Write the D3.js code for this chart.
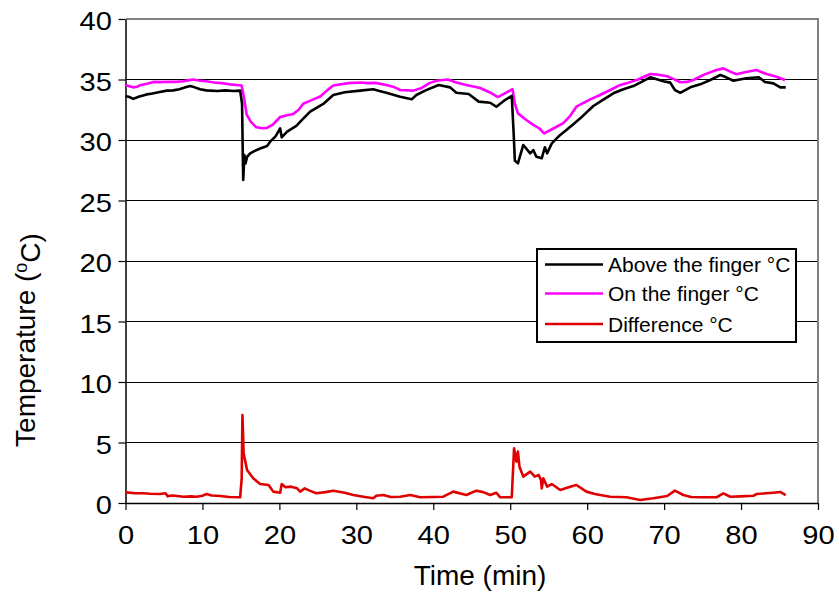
<!DOCTYPE html>
<html>
<head>
<meta charset="utf-8">
<script src="https://cdn.jsdelivr.net/npm/d3@7/dist/d3.min.js"></script>
<style>
  html, body { margin: 0; padding: 0; background: #fff; }
  svg { display: block; font-family: "Liberation Sans", Arial, sans-serif; }
</style>
</head>
<body>
<svg id="chart" width="839" height="595"></svg>
<script>
// Sensor temperature above and on the finger, with their difference (°C vs minutes)
const aboveT = [0,0.5,1,1.8,2.75,3.5,4.3,5.35,6.2,7,7.8,8.4,9,9.7,10.5,11,12,13,14,14.9,15.15,15.25,15.3,15.45,15.6,15.8,16.2,16.8,17.5,18.4,18.8,19.5,20.1,20.3,21,22.2,23,24,25.7,27,28.5,30.5,32.2,33,33.9,35.7,37.2,37.8,39,40.7,42.2,43,44.6,45.9,47.4,48.2,49.2,50.2,50.45,50.6,51,51.7,52.6,53,53.4,54.1,54.5,54.8,55,55.4,56.3,57.3,58.2,59.1,60.8,62,63.4,64.7,66,67.2,68.2,69.9,70.8,71.4,72.1,73.4,74.7,76,77.3,78,79,80.7,82.3,83.1,84.2,85.1,85.8];
const aboveV = [33.64,33.55,33.4,33.6,33.77,33.85,33.95,34.08,34.1,34.2,34.35,34.46,34.35,34.19,34.1,34.08,34.05,34.1,34.05,34.08,33.0,28.5,26.7,28.76,28.07,28.6,28.9,29.1,29.3,29.5,29.86,30.3,30.96,30.22,30.69,31.16,31.7,32.34,32.98,33.72,33.95,34.08,34.19,34.05,33.9,33.58,33.36,33.72,34.1,34.55,34.35,33.9,33.8,33.17,33.08,32.75,33.25,33.64,30.5,28.3,28.07,29.59,28.9,29.17,28.62,28.49,29.4,28.9,29.17,29.72,30.3,30.83,31.3,31.79,32.81,33.3,33.86,34.2,34.46,34.85,35.18,34.85,34.74,34.13,33.9,34.35,34.6,34.96,35.37,35.2,34.9,35.1,35.18,34.8,34.68,34.35,34.35];

const onT = [0,0.5,1,1.5,2,2.8,3.6,4.5,5.5,6.5,7.5,8.3,8.8,9.5,10.5,11.5,12.5,13.5,14.5,15.1,15.4,15.75,16.3,17,17.8,18.4,19.2,20.1,21,21.8,22.5,23.1,24.2,25.3,26.2,27,28,29,30.5,31.5,32.5,33.9,35,35.7,37.4,38.5,39.5,40.4,41.9,43,44.3,46.1,47.3,48.4,49.3,50.3,50.6,51,52.1,53,53.8,54.4,55.6,56.9,57.8,58.6,60.4,61.6,63,64.3,65.1,66.6,68.2,69.2,70.3,71.2,72.1,73,73.8,75.2,76.8,77.7,78.6,79.4,80.5,82,83.3,84.5,85.7];
const onV = [34.55,34.45,34.35,34.4,34.55,34.65,34.8,34.78,34.82,34.8,34.85,34.95,35.0,34.92,34.85,34.75,34.7,34.6,34.55,34.5,33.5,32.1,31.5,31.05,30.97,31.0,31.3,31.9,32.05,32.15,32.5,33.0,33.3,33.6,34.1,34.5,34.6,34.7,34.75,34.7,34.72,34.55,34.35,34.13,34.08,34.3,34.7,34.9,35.0,34.75,34.55,34.3,33.95,33.55,33.85,34.2,33.0,32.2,31.65,31.25,30.95,30.55,30.95,31.4,32.0,32.75,33.36,33.7,34.13,34.55,34.68,35.0,35.45,35.4,35.29,35.05,34.77,34.8,34.96,35.4,35.79,35.92,35.65,35.43,35.6,35.79,35.45,35.25,34.96];

const diffT = [0,1,2.3,3.2,4.5,5.2,5.5,6,6.5,7.5,8.5,9.25,10,10.55,11.2,12.3,13.5,14.9,15.1,15.2,15.35,15.8,16.6,17.5,18.6,19.2,20.1,20.3,20.8,21.5,22.3,22.7,23.3,24,24.8,26,27,28.5,29.6,30.9,32.2,32.6,33.5,34.5,35.7,37,38.3,40,41.3,42.6,44.3,45.6,46.5,47.4,48.2,48.7,50.2,50.5,50.8,51,51.2,51.7,52.6,53.2,53.7,54,54.1,54.3,54.8,55.4,56.5,57.8,58.6,59.9,61,61.7,63,65.1,66.9,68.6,70.4,71.4,72.5,73.5,74.7,76.8,77.7,78.6,80,81.6,82,83.3,84.2,85.1,85.8];
const diffV = [0.88,0.82,0.8,0.76,0.74,0.8,0.55,0.62,0.6,0.52,0.55,0.52,0.6,0.74,0.62,0.58,0.5,0.47,2.0,7.27,4.1,2.73,2.04,1.57,1.49,0.94,0.85,1.57,1.3,1.35,1.21,0.94,1.21,1.0,0.8,0.9,1.02,0.85,0.66,0.52,0.39,0.6,0.66,0.5,0.52,0.66,0.47,0.5,0.52,0.94,0.66,1.02,0.9,0.66,0.85,0.47,0.47,4.52,3.42,4.25,3.0,2.18,2.59,2.18,2.32,1.9,1.21,2.04,1.35,1.57,1.07,1.35,1.49,0.94,0.75,0.66,0.52,0.47,0.25,0.39,0.58,1.02,0.66,0.5,0.47,0.47,0.8,0.52,0.55,0.6,0.74,0.8,0.85,0.91,0.66];

const seriesNames = ["Above the finger °C", "On the finger °C", "Difference °C"];
const seriesColors = ["#000000", "#ff00ff", "#e00000"];
const xTicks = [0, 10, 20, 30, 40, 50, 60, 70, 80, 90];
const yTicks = [0, 5, 10, 15, 20, 25, 30, 35, 40];

const svg = d3.select("#chart");
const plot = { left: 125.5, right: 818, top: 19, bottom: 503 };

const x = d3.scaleLinear().domain([0, 90]).range([plot.left, plot.right]);
const y = d3.scaleLinear().domain([0, 40]).range([plot.bottom, plot.top]);

// horizontal gridlines (except at the top, which is the frame)
svg.append("g")
  .selectAll("line")
  .data(yTicks.filter(v => v > 0 && v < 40))
  .join("line")
  .attr("x1", plot.left).attr("x2", plot.right)
  .attr("y1", d => y(d)).attr("y2", d => y(d))
  .attr("stroke", "#000").attr("stroke-width", 1)
  .attr("shape-rendering", "crispEdges");

// grey frame on top and right
svg.append("path")
  .attr("d", `M${plot.left},${plot.top}H${plot.right}V${plot.bottom}`)
  .attr("fill", "none").attr("stroke", "#808080").attr("stroke-width", 2)
  .attr("shape-rendering", "crispEdges");

// axes
const xAxis = svg.append("g")
  .attr("transform", `translate(0,${plot.bottom})`)
  .call(d3.axisBottom(x).tickValues(xTicks).tickSize(7).tickSizeOuter(0).tickPadding(16));
const yAxis = svg.append("g")
  .attr("transform", `translate(${plot.left},0)`)
  .call(d3.axisLeft(y).tickValues(yTicks).tickSize(7).tickSizeOuter(0).tickPadding(6));

// tick labels are drawn slightly wide
const labelStretch = 1.12;
[xAxis, yAxis].forEach(g => {
  g.select(".domain").attr("stroke", "#000").attr("stroke-width", 1.5);
  g.selectAll(".tick line").attr("stroke", "#000").attr("stroke-width", 1.2);
  g.selectAll(".tick text")
    .attr("fill", "#000")
    .style("font-family", '"Liberation Sans", Arial, sans-serif')
    .style("font-size", "26px")
    .attr("transform", `scale(${labelStretch},1)`);
});
xAxis.selectAll(".tick text").attr("dy", "0.71em");
yAxis.selectAll(".tick text").attr("dy", "0.42em").attr("x", -13.5 / labelStretch);

// data lines
const line = d3.line().x(d => x(d[0])).y(d => y(d[1]));
const series = [
  d3.zip(aboveT, aboveV),
  d3.zip(onT, onV),
  d3.zip(diffT, diffV)
];
// draw order: magenta, black, red
[1, 0, 2].forEach(i => {
  svg.append("path")
    .datum(series[i])
    .attr("d", line)
    .attr("fill", "none")
    .attr("stroke", seriesColors[i])
    .attr("stroke-width", 2.6)
    .attr("stroke-linejoin", "round");
});

// axis titles
svg.append("text")
  .attr("x", 480).attr("y", 585)
  .attr("text-anchor", "middle")
  .style("font-size", "28px")
  .text("Time (min)");

const yt = svg.append("text")
  .attr("transform", "translate(35,340) rotate(-90)")
  .attr("text-anchor", "middle")
  .style("font-size", "28px");
yt.append("tspan").text("Temperature (");
yt.append("tspan").attr("dy", "-0.45em").style("font-size", "18px").text("o");
yt.append("tspan").attr("dy", "0.45em").text("C)");

// legend
const legend = svg.append("g");
legend.append("rect")
  .attr("x", 537).attr("y", 249).attr("width", 259).attr("height", 93)
  .attr("fill", "#fff").attr("stroke", "#000").attr("stroke-width", 1.2)
  .attr("shape-rendering", "crispEdges");
const legendY = [264.5, 293.5, 324];
seriesNames.forEach((name, i) => {
  legend.append("line")
    .attr("x1", 545).attr("x2", 603)
    .attr("y1", legendY[i]).attr("y2", legendY[i])
    .attr("stroke", seriesColors[i]).attr("stroke-width", 2.6);
  legend.append("text")
    .attr("x", 608).attr("y", legendY[i] + 7.5)
    .style("font-size", "21px")
    .text(name);
});
</script>
</body>
</html>
